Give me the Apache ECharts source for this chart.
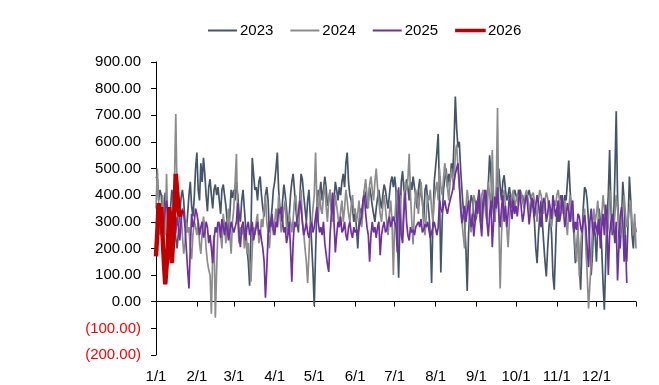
<!DOCTYPE html>
<html>
<head>
<meta charset="utf-8">
<script src="https://cdn.jsdelivr.net/npm/echarts@6/dist/echarts.min.js"></script>
<style>
html,body{margin:0;padding:0;background:#fff;}
#c{width:659px;height:385px;}
</style>
</head>
<body>
<div id="c"></div>
<script>
// ---- data ----
var monthNames = ['1','2','3','4','5','6','7','8','9','10','11','12'];
var monthDays = [31,28,31,30,31,30,31,31,30,31,30,31];
var seriesNames = ['2023','2024','2025','2026'];

var v2023 = [
470,460,380,420,400,300,350,410,380,330,290,350,420,380,300,240,200,260,330,390,420,380,300,260,330,400,450,360,320,390,500,
560,420,380,520,450,540,480,400,340,430,460,400,350,420,440,400,430,380,330,420,440,400,360,300,250,330,420,390,
420,380,450,400,330,300,380,420,350,280,200,150,60,250,540,480,420,430,380,450,470,400,350,320,400,430,380,260,300,350,420,
450,500,560,420,350,300,380,440,400,350,280,320,400,450,480,420,350,300,260,380,480,460,400,350,300,380,420,320,220,120,
-15,180,350,420,400,450,380,420,470,430,360,380,420,350,300,380,450,420,380,430,400,450,480,430,520,560,450,400,380,350,300,
340,280,200,300,350,330,380,420,400,350,380,430,400,360,330,300,350,390,420,380,350,400,440,420,380,350,400,450,470,430,
470,420,250,90,300,450,490,420,400,460,430,380,450,420,470,430,400,350,420,460,400,380,300,420,440,380,330,250,70,300,450,
450,560,630,400,110,300,420,460,500,430,480,450,520,470,600,770,650,580,600,500,420,350,300,200,40,250,350,400,380,330,300,
320,380,420,350,300,380,420,360,400,440,550,480,380,330,300,400,480,500,430,380,450,475,420,380,400,430,390,350,400,420,
400,380,420,410,390,400,360,380,410,400,420,390,380,350,300,200,145,250,320,380,300,220,150,95,200,280,330,250,100,45,200,
350,300,380,400,360,330,400,380,450,530,420,350,300,250,145,200,260,150,45,200,350,430,420,380,300,200,100,180,300,250,
150,280,350,300,200,70,-30,150,320,400,570,350,250,300,480,715,400,250,200,300,450,380,200,150,300,470,380,250,200,300,260
];

var v2024 = [
350,500,380,250,300,400,330,250,480,280,300,350,200,380,450,705,400,300,250,330,250,180,220,300,260,280,200,160,250,300,280,
250,300,220,180,260,320,280,200,150,120,100,-45,180,250,-60,120,280,300,250,200,330,280,220,300,350,250,180,300,
350,450,555,300,220,280,250,300,200,260,180,220,150,75,200,280,250,300,330,220,250,310,280,350,400,300,260,200,280,320,250,
300,350,280,400,320,260,300,350,380,280,250,330,300,260,310,380,400,330,290,350,420,300,260,200,150,70,180,300,280,350,
400,560,380,300,420,350,330,400,440,360,300,380,420,350,300,330,400,360,320,280,340,380,300,350,420,380,330,300,360,400,330,
350,300,330,380,300,280,350,420,460,400,350,440,470,420,380,450,500,430,380,330,300,360,400,350,300,250,330,380,300,100,
300,380,420,350,400,300,250,380,450,420,460,555,400,300,215,350,420,380,330,400,450,380,300,250,330,400,380,420,350,300,380,
420,450,380,500,430,400,460,520,480,430,380,450,500,460,420,560,590,500,430,380,300,250,200,350,420,380,300,260,330,400,380,
320,380,350,300,400,420,380,330,300,450,400,350,570,400,300,420,727,300,50,250,380,420,350,280,205,300,380,400,420,350,
380,400,360,420,410,380,350,400,420,390,360,330,400,410,380,350,300,380,420,400,370,330,380,410,390,350,300,280,330,380,360,
400,420,380,350,400,330,380,300,250,350,400,330,300,280,200,150,300,95,200,280,300,350,200,100,-25,-30,150,280,350,300,
330,380,300,250,320,400,350,300,250,280,420,380,300,260,330,400,350,280,250,300,350,400,330,280,300,350,380,300,250,330,200
];

var v2025 = [
300,280,330,310,260,240,300,350,380,330,280,300,340,300,250,260,320,280,230,300,350,330,280,200,120,50,200,330,280,300,350,
330,300,250,280,300,240,260,300,280,220,250,200,145,230,280,260,300,290,240,310,280,250,300,270,230,260,300,280,
260,280,300,370,250,205,280,300,260,230,280,300,250,270,300,230,260,280,300,250,270,230,200,150,15,120,250,300,280,330,270,
250,300,280,350,330,355,300,260,280,220,250,300,200,75,220,300,280,310,330,380,350,300,250,270,300,260,240,280,300,260,
280,320,355,300,260,280,250,300,220,180,140,112,250,330,410,300,185,250,300,280,320,260,270,300,250,230,280,300,260,240,280,
260,270,250,280,300,320,380,400,330,280,250,150,250,300,260,280,240,280,300,175,250,280,300,260,270,300,320,280,300,320,
300,280,185,430,320,250,220,330,410,300,250,230,280,260,270,250,280,290,300,280,310,260,270,290,280,300,270,240,260,280,300,
300,250,280,380,350,335,360,380,350,330,360,380,400,420,450,480,500,520,450,350,295,330,360,300,340,380,320,280,330,245,300,
380,330,420,300,245,350,400,420,300,245,330,380,205,300,395,350,430,330,280,350,400,300,360,280,330,400,350,310,380,330,
360,320,380,420,350,300,330,380,400,350,290,340,390,380,320,360,400,370,330,280,350,390,370,300,330,380,350,310,400,360,320,
350,380,300,330,400,350,280,320,370,340,300,350,380,260,300,270,330,320,280,260,300,325,280,200,130,300,350,280,250,300,
300,250,310,200,280,330,250,365,300,100,250,300,330,280,220,300,80,200,320,355,300,150,250,70
];

var v2026 = [170,260,370,300,355,245,150,65,60,200,355,300,145,230,350,480,420,350,320,340,330];

// date categories built from month lengths
var categories = [];
monthDays.forEach(function (n, m) {
  for (var d = 1; d <= n; d++) categories.push(monthNames[m] + '/' + d);
});

var colors = ['#44546A', '#8C8C8C', '#7030A0', '#C00000'];
var widths = [1.7, 1.7, 1.7, 4.5];
var values = [v2023, v2024, v2025, v2026];

var isMonthStart = function (i, v) { return /\/1$/.test(v) || i === categories.length - 1; };
var isMonthLabel = function (i, v) { return /\/1$/.test(v); };

var FONT = '"Liberation Sans", Arial, sans-serif';
var chart = echarts.init(document.getElementById('c'), null, {renderer: 'canvas'});
chart.setOption({
  animation: false,
  backgroundColor: '#fff',
  textStyle: {fontFamily: FONT},
  legend: {
    left: 203, top: 18,
    itemWidth: 29, itemHeight: 2, itemGap: 17,
    textStyle: {fontSize: 15, color: '#000', fontFamily: FONT, padding: [0, 0, 0, -2]},
    itemStyle: {borderWidth: 0},
    data: seriesNames.map(function (n, i) {
      var it = {name: n, icon: 'rect'};
      if (i === 3) it.itemStyle = {borderColor: colors[3], borderWidth: 1.6};
      return it;
    })
  },
  grid: {left: 156, right: 23, top: 62, bottom: 30, containLabel: false},
  xAxis: [{
    type: 'category', data: categories, boundaryGap: false, position: 'bottom',
    axisLine: {onZero: true, lineStyle: {color: '#000', width: 1}},
    axisTick: {show: true, inside: false, length: 5, interval: isMonthStart, lineStyle: {color: '#000'}},
    axisLabel: {show: false},
    splitLine: {show: false}
  }, {
    type: 'category', data: categories, boundaryGap: false, position: 'bottom',
    axisLine: {show: false, onZero: false},
    axisTick: {show: false},
    axisLabel: {show: true, interval: isMonthLabel, margin: 14, fontSize: 15, color: '#000', fontFamily: FONT},
    splitLine: {show: false}
  }],
  yAxis: {
    type: 'value', min: -200, max: 900, interval: 100,
    axisLine: {show: true, lineStyle: {color: '#000', width: 1}},
    axisTick: {show: true, inside: false, length: 5, lineStyle: {color: '#000'}},
    splitLine: {show: false},
    axisLabel: {
      fontSize: 15, margin: 15, fontFamily: FONT,
      formatter: function (v) { v = Number(v); return v < 0 ? '(' + (-v).toFixed(2) + ')' : v.toFixed(2); },
      color: function (v) { return Number(v) < 0 ? '#FF0000' : '#000'; }
    }
  },
  series: seriesNames.map(function (name, i) {
    return {
      name: name, type: 'line', xAxisIndex: 0, data: values[i],
      symbol: 'none', showSymbol: false,
      lineStyle: {color: colors[i], width: widths[i]},
      itemStyle: {color: colors[i]},
      z: 2 + i
    };
  })
});
</script>
</body>
</html>
